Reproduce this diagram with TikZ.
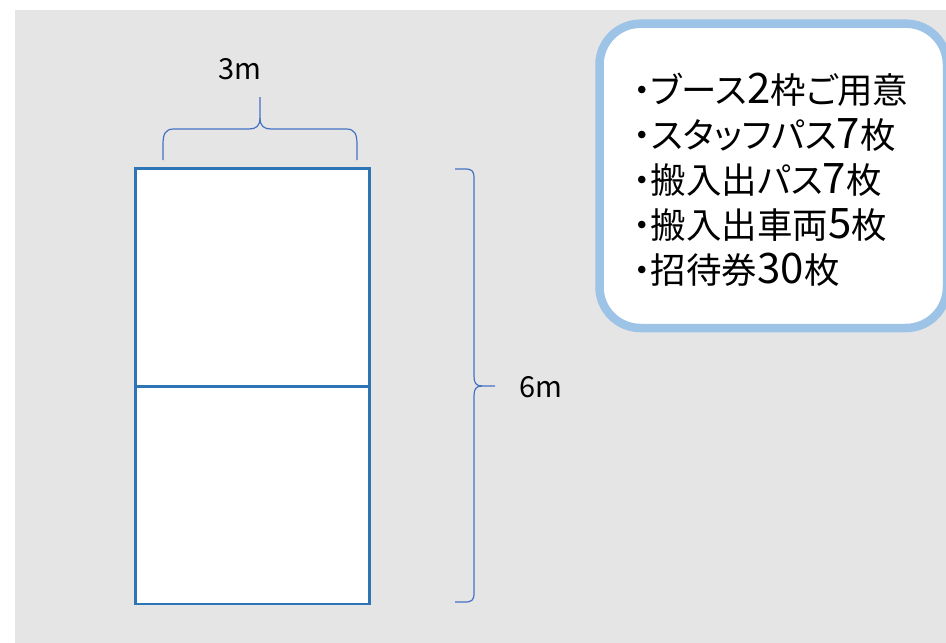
\documentclass[tikz,border=0pt]{standalone}
\usepackage{fontspec}
\newfontfamily\jp[RawFeature=+palt]{Noto Sans CJK JP}
\newfontfamily\jplabel{Noto Sans CJK JP}
\definecolor{bggray}{HTML}{E5E5E5}
\definecolor{cellblue}{HTML}{2E75B6}
\definecolor{braceblue}{HTML}{4472C4}
\definecolor{boxblue}{HTML}{9DC3E6}
\newcommand\dg[1]{{\fontsize{42}{45}\selectfont #1}}
\begin{document}
\begin{tikzpicture}[x=1pt,y=-1pt,
  cell/.style={draw=cellblue, line width=2.5pt, fill=white, inner sep=0pt,
    minimum width=234pt, minimum height=217.8pt},
  bracepath/.style={draw=braceblue, line width=1.2pt},
  dimlabel/.style={font=\jplabel\fontsize{29}{34}\selectfont, text=black, inner sep=0pt},
  listbox/.style={draw=boxblue, line width=8.5pt, fill=white, rounded corners=41pt},
  listtext/.style={font=\jp\fontsize{35.5}{45}\selectfont, align=left, anchor=west, inner sep=0pt, text=black}]
\useasboundingbox (0,0) rectangle (946,643);
\begin{scope}
\clip (0,0) rectangle (946,643);
\fill[bggray] (15,10) rectangle (946,643);
% booth cells
\node[cell] (cellA) at (252.5,277.4) {};
\node[cell] (cellB) at (252.5,495.2) {};
% top brace
\draw[bracepath] (163,160) -- (163,145) .. controls (163,134) and (165,129) .. (174,129)
  -- (249,129) .. controls (256,129) and (260,126) .. (260,118) -- (260,97);
\draw[bracepath] (260,118) .. controls (260,126) and (264,129) .. (271,129)
  -- (346,129) .. controls (355,129) and (357,134) .. (357,145) -- (357,160);
% right brace
\draw[bracepath] (455,169) -- (465,169) .. controls (472,169) and (474,171) .. (474,178)
  -- (474,376) .. controls (474,383) and (476,386) .. (482,386) -- (495,386);
\draw[bracepath] (482,386) .. controls (476,386) and (474,389) .. (474,396)
  -- (474,593) .. controls (474,600) and (472,602) .. (465,602) -- (455,602);
\node[dimlabel] (wlabel) at (240,69) {3m};
\node[dimlabel] (hlabel) at (540.5,387.5) {6m};
% list box
\draw[listbox] (599.5,23.7) rectangle (947,328);
\node[listtext] (list) at (633,180) {・ブース\dg{2}枠ご用意\\・スタッフパス\dg{7}枚\\・搬入出パス\dg{7}枚\\・搬入出車両\dg{5}枚\\・招待券\dg{30}枚};
\end{scope}
\end{tikzpicture}
\end{document}
